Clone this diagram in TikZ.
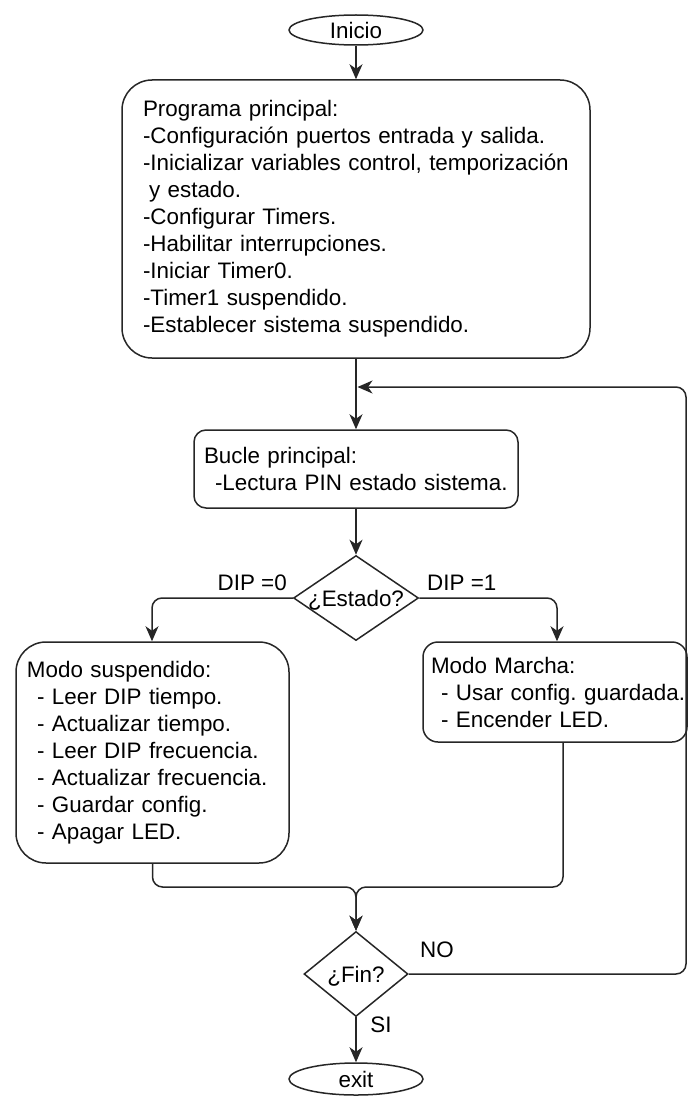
\documentclass[tikz,border=0pt]{standalone}
\usepackage{fontspec}
\setmainfont{Liberation Sans}
\usetikzlibrary{shapes.geometric, arrows.meta}
\frenchspacing
\begin{document}
\begin{tikzpicture}[x=1pt, y=-1pt,
  every node/.style={font=\fontsize{22.4}{27}\selectfont, text=black},
  conn/.style={line width=1.5pt, draw=black!85, rounded corners=10pt},
  arr/.style={conn, -{Stealth[length=15pt,width=13pt,inset=4.5pt]}},
  box/.style={draw=black!85, line width=1.5pt, align=left, inner ysep=0pt},
  term/.style={ellipse, draw=black!85, line width=1.5pt, inner sep=0pt},
  dec/.style={diamond, draw=black!85, line width=1.5pt, inner sep=0pt},
  lbl/.style={inner sep=0pt},
]
\useasboundingbox (0,0) rectangle (688,1097);

% terminals
\node[term, minimum width=134pt, minimum height=30pt] (inicio) at (356,30) {Inicio};
\node[term, minimum width=134pt, minimum height=32pt] (exit) at (356,1079) {exit};

% process boxes
\node[box, rounded corners=30pt, text width=426pt, inner xsep=21pt, minimum height=278pt] (main) at (356,219)
  {Programa principal:\\
   -Configuración puertos entrada y salida.\\
   -Inicializar variables control, temporización\\
   \hspace*{6pt}y estado.\\
   -Configurar Timers.\\
   -Habilitar interrupciones.\\
   -Iniciar Timer0.\\
   -Timer1 suspendido.\\
   -Establecer sistema suspendido.};

\node[box, rounded corners=12pt, text width=304pt, inner xsep=10pt, minimum height=78pt] (bucle) at (356,469)
  {Bucle principal:\\
   \hspace*{11pt}-Lectura PIN estado sistema.};

\node[box, rounded corners=30pt, text width=251pt, inner xsep=11pt, minimum height=221pt] (susp) at (152.5,752.5)
  {Modo suspendido:\\
   \hspace*{10pt}- Leer DIP tiempo.\\
   \hspace*{10pt}- Actualizar tiempo.\\
   \hspace*{10pt}- Leer DIP frecuencia.\\
   \hspace*{10pt}- Actualizar frecuencia.\\
   \hspace*{10pt}- Guardar config.\\
   \hspace*{10pt}- Apagar LED.};

% the second line runs right up to the box edge, so keep it on one line
\node[box, rounded corners=15pt, text width=248pt, inner xsep=8pt, minimum height=100pt] (marcha) at (555,692)
  {Modo Marcha:\\
   \mbox{\hspace*{10pt}- Usar config. guardada.}\\
   \hspace*{10pt}- Encender LED.};

% decisions
\node[dec, minimum width=125pt, minimum height=85pt,
      label={[lbl, anchor=center, yshift=-2pt]center:{¿Estado?}}] (estado) at (356,598) {};
\node[dec, minimum width=104pt, minimum height=85pt,
      label={[lbl, anchor=center, yshift=-2pt]center:{¿Fin?}}] (fin) at (356,974) {};

% branch labels
\node[lbl, anchor=east] (dip0) at (287,583) {DIP =0};
\node[lbl, anchor=west] (dip1) at (427,583) {DIP =1};
\node[lbl] (no) at (437,950) {NO};
\node[lbl] (si) at (381,1025) {SI};

% connectors
\coordinate (join) at (356,887);
\coordinate (rturn) at (686,974);
\coordinate (rtop) at (686,387);
\coordinate (back) at (357.5,387);

\draw[arr] (inicio) -- (main);
\draw[arr] (main) -- (bucle);
\draw[arr] (bucle) -- (estado);
\draw[arr] (estado.west) -| ([xshift=-0.5pt]susp.north);
\draw[arr] (estado.east) -| ([xshift=2pt]marcha.north);
\draw[arr] (susp.south) |- (join) -- (fin.north);
\draw[arr] ([xshift=8pt]marcha.south) |- (join) -- (fin.north);
\draw[arr] (fin) -- (exit);
\draw[arr] (fin.east) -- (rturn) -- (rtop) -- (back);
\end{tikzpicture}
\end{document}
